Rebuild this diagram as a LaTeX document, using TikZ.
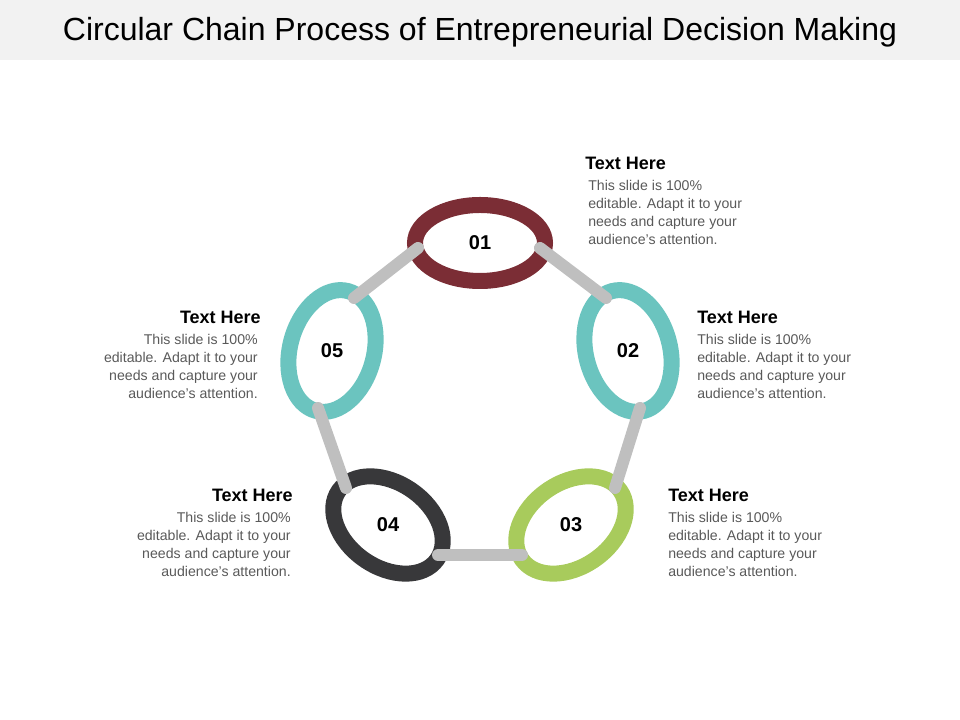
\documentclass[tikz,border=0pt]{standalone}
\usepackage{fontspec}
\setmainfont{Liberation Sans}
\usetikzlibrary{positioning}
\definecolor{ringred}{HTML}{7B2D35}
\definecolor{ringteal}{HTML}{6BC4BF}
\definecolor{ringgreen}{HTML}{A8CB5C}
\definecolor{ringdark}{HTML}{38383A}
\definecolor{linkgray}{HTML}{BFBFBF}
\definecolor{bodygray}{HTML}{595959}
\begin{document}
\begin{tikzpicture}[x=0.75pt,y=0.75pt]
  \tikzset{ring/.style={line width=12pt},
    link/.style={linkgray, line width=9pt, line cap=round},
    num/.style={font=\fontsize{15}{18}\selectfont\bfseries},
    head/.style={font=\fontsize{13.5}{16}\selectfont\bfseries, inner sep=0pt},
    body/.style={font=\fontsize{10.6}{13.5}\selectfont, text=bodygray, inner sep=0pt}}
  \useasboundingbox (0,0) rectangle (960,720);
  \fill[gray!10] (0,660) rectangle (960,720);
  \node (title) at (480,688) {\fontsize{24}{28}\selectfont Circular Chain Process of Entrepreneurial Decision Making};

  % rings
  \draw[ring, ringred] (480,477) ellipse [x radius=65, y radius=38];
  \draw[ring, ringteal, rotate around={15:(628,369)}] (628,369) ellipse [x radius=42, y radius=62];
  \draw[ring, ringteal, rotate around={-15:(332,369)}] (332,369) ellipse [x radius=42, y radius=62];
  \draw[ring, ringgreen, rotate around={35:(571,195)}] (571,195) ellipse [x radius=60, y radius=42];
  \draw[ring, ringdark, rotate around={-35:(388,195)}] (388,195) ellipse [x radius=60, y radius=42];

  \node[num] (n1) at (480,477) {01};
  \node[num] (n2) at (628,369) {02};
  \node[num] (n3) at (571,195) {03};
  \node[num] (n4) at (388,195) {04};
  \node[num] (n5) at (332,369) {05};

  % links
  \coordinate (a1) at (540,472); \coordinate (a2) at (606,422);
  \coordinate (b1) at (418,472); \coordinate (b2) at (354,422);
  \coordinate (c1) at (640,312); \coordinate (c2) at (615,232);
  \coordinate (d1) at (318,312); \coordinate (d2) at (346,232);
  \coordinate (e1) at (438,165); \coordinate (e2) at (522,165);
  \draw[link] (a1) -- (a2);
  \draw[link] (b1) -- (b2);
  \draw[link] (c1) -- (c2);
  \draw[link] (d1) -- (d2);
  \draw[link] (e1) -- (e2);

  % texts
  \node[head, anchor=west] (h1) at (585,557) {Text Here};
  \node[body, anchor=north west, align=left] (t1) at (588,540) {This slide is 100\%\\editable. Adapt it to your\\needs and capture your\\audience's attention.};
  \node[head, anchor=west] (h2) at (697,403) {Text Here};
  \node[body, anchor=north west, align=left] (t2) at (697,386) {This slide is 100\%\\editable. Adapt it to your\\needs and capture your\\audience's attention.};
  \node[head, anchor=west] (h3) at (668,225) {Text Here};
  \node[body, anchor=north west, align=left] (t3) at (668,208) {This slide is 100\%\\editable. Adapt it to your\\needs and capture your\\audience's attention.};
  \node[head, anchor=east] (h4) at (293,225) {Text Here};
  \node[body, anchor=north east, align=right] (t4) at (291,208) {This slide is 100\%\\editable. Adapt it to your\\needs and capture your\\audience's attention.};
  \node[head, anchor=east] (h5) at (261,403) {Text Here};
  \node[body, anchor=north east, align=right] (t5) at (258,386) {This slide is 100\%\\editable. Adapt it to your\\needs and capture your\\audience's attention.};
\end{tikzpicture}
\end{document}
